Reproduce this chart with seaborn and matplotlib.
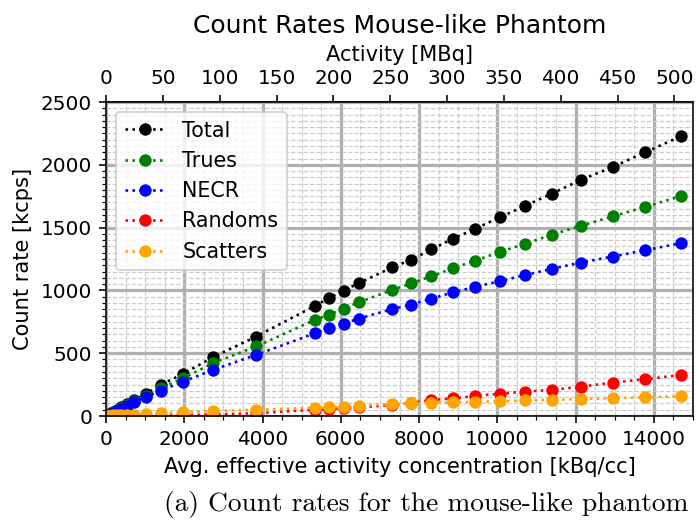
import numpy as np
import pandas as pd
import matplotlib
matplotlib.use("Agg")
import matplotlib.pyplot as plt
from matplotlib.ticker import MultipleLocator
import seaborn as sns

# ---- data ----
conc = [45, 65, 95, 135, 190, 270, 380, 527, 721, 1011, 1393, 1970, 2734, 3839,
        5350, 5689, 6071, 6453, 7320, 7804, 8313, 8866, 9434, 10056, 10700,
        11396, 12135, 12950, 13783, 14683]
total = [8, 12, 17, 24, 34, 48, 68, 97, 128, 176, 248, 335, 469, 633,
         879, 937, 998, 1057, 1184, 1246, 1326, 1411, 1491, 1581, 1672,
         1771, 1880, 1983, 2101, 2226]
trues = [7, 10, 15, 21, 30, 43, 60, 86, 122, 160, 221, 301, 421, 554,
         767, 807, 855, 905, 1004, 1057, 1113, 1176, 1238, 1304, 1371,
         1443, 1515, 1589, 1667, 1749]
necr = [7, 10, 14, 20, 28, 40, 56, 80, 114, 149, 202, 274, 367, 487,
        660, 700, 735, 775, 852, 887, 934, 985, 1028, 1073, 1121,
        1172, 1222, 1270, 1320, 1376]
randoms = [0, 0, 0, 0, 0, 1, 1, 1, 2, 2, 4, 7, 12, 22,
           50, 55, 61, 68, 88, 104, 128, 140, 160, 178, 194,
           208, 234, 266, 293, 327]
scatters = [1, 2, 3, 4, 5, 6, 7, 9, 12, 17, 22, 30, 40, 50,
            66, 68, 74, 82, 96, 101, 106, 108, 114, 117, 125,
            128, 136, 141, 149, 157]

series_names = ["Total", "Trues", "NECR", "Randoms", "Scatters"]
series_values = [total, trues, necr, randoms, scatters]
series_colors = ["black", "green", "blue", "red", "orange"]

MBQ_TO_KBQCC = 29.05  # kBq/cc per MBq (top axis conversion)
top_ticks = [0, 50, 100, 150, 200, 250, 300, 350, 400, 450, 500]

title = "Count Rates Mouse-like Phantom"
xlabel = "Avg. effective activity concentration [kBq/cc]"
ylabel = "Count rate [kcps]"
top_label = "Activity [MBq]"
caption = "(a) Count rates for the mouse-like phantom"

# ---- plot ----
plt.rcParams["font.family"] = ["DejaVu Sans"]
plt.rcParams["font.size"] = 10

fig = plt.figure(figsize=(696 / 144, 521 / 144), dpi=144)
ax = fig.add_axes([0.1523, 0.2015, 0.9957 - 0.1523, 0.8042 - 0.2015])

for name, vals, col in zip(series_names, series_values, series_colors):
    df = pd.DataFrame({"x": conc, "y": vals})
    sns.lineplot(data=df, x="x", y="y", ax=ax, color=col, marker="o",
                 linestyle=":", linewidth=1.3, markersize=6.2,
                 markeredgecolor=col, markeredgewidth=0, label=name,
                 sort=False, estimator=None)

ax.set_xlim(0, 15000)
ax.set_ylim(0, 2500)
ax.xaxis.set_major_locator(MultipleLocator(2000))
ax.xaxis.set_minor_locator(MultipleLocator(500))
ax.yaxis.set_major_locator(MultipleLocator(500))
ax.yaxis.set_minor_locator(MultipleLocator(50))
ax.set_axisbelow(True)
ax.grid(which="major", color="#b0b0b0", linewidth=1.6, linestyle="-")
ax.grid(which="minor", color="#cccccc", linewidth=0.6, linestyle="--")

ax.set_xlabel(xlabel, fontsize=10.5)
ax.set_ylabel(ylabel, fontsize=10.5)

sec = ax.secondary_xaxis("top", functions=(lambda x: x / MBQ_TO_KBQCC,
                                            lambda a: a * MBQ_TO_KBQCC))
sec.set_xticks(top_ticks)
sec.set_xlabel(top_label, fontsize=10.5)

ax.set_title(title, fontsize=12.5)

ax.legend(loc="upper left", fontsize=10.3)

fig.text(0.6125, 0.031, caption, family="cmr10", fontsize=13.7,
         ha="center", va="center")

fig.savefig("out.png", dpi=144)
